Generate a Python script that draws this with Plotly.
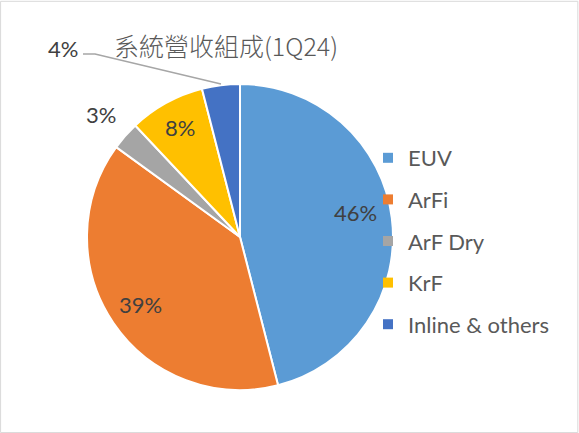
import math
import plotly.graph_objects as go

labels = ["EUV", "ArFi", "ArF Dry", "KrF", "Inline & others"]
values = [46, 39, 3, 8, 4]
colors = ["#5B9BD5", "#ED7D31", "#A5A5A5", "#FFC000", "#4472C4"]
title_text = "系統營收組成(1Q24)"

W, H = 579, 433
# pie geometry in pixels (centre and radius)
CX, CY, R = 240, 237, 153
# where each value label sits: fraction of the radius, small angle nudge (deg)
label_r = [0.77, 0.79, 1.21, 0.82, None]
label_nudge = [-5, 0, 0, 0, 0]

LABEL_FONT = dict(family="Lato", size=22, color="#404040")


def px(x):
    return x / W


def py(y):
    return 1 - y / H


fig = go.Figure()
fig.add_trace(
    go.Pie(
        labels=labels,
        values=values,
        sort=False,
        direction="clockwise",
        rotation=0,
        marker=dict(colors=colors, line=dict(color="white", width=2)),
        textinfo="none",
        domain=dict(x=[px(CX - R), px(CX + R)], y=[py(CY + R), py(CY - R)]),
        hoverinfo="label+percent",
        showlegend=False,
    )
)

# legend entries (one group each so the rows can be spaced out like the original)
for name, col in zip(labels, colors):
    fig.add_trace(
        go.Scatter(
            x=[None], y=[None], mode="markers", name=name,
            marker=dict(symbol="square", size=10, color=col),
            legendgroup=name, hoverinfo="skip",
        )
    )

# value labels, placed along each slice's middle angle
total = sum(values)
cum = 0
for i, v in enumerate(values):
    mid = (cum + v / 2) / total * 360 + label_nudge[i]
    cum += v
    if label_r[i] is None:
        continue
    a = math.radians(mid)
    x = CX + label_r[i] * R * math.sin(a)
    y = CY - label_r[i] * R * math.cos(a)
    fig.add_annotation(
        x=px(x), y=py(y), xref="paper", yref="paper",
        xanchor="center", yanchor="middle",
        text=f"{v}%", showarrow=False, font=LABEL_FONT,
    )

# the small slice gets its label pulled out with a leader line
fig.add_annotation(
    x=px(63), y=py(49), xref="paper", yref="paper",
    xanchor="center", yanchor="middle",
    text=f"{values[4]}%", showarrow=False, font=LABEL_FONT,
)
fig.add_shape(
    type="path", xref="paper", yref="paper",
    path=f"M {px(83)} {py(54)} L {px(95)} {py(54)} L {px(221)} {py(84)}",
    line=dict(color="#A6A6A6", width=1.5),
)
# chart border
fig.add_shape(
    type="rect", xref="paper", yref="paper",
    x0=0.001, y0=0.001, x1=0.998, y1=0.997,
    line=dict(color="#D9D9D9", width=1),
)

fig.update_layout(
    width=W, height=H,
    margin=dict(l=0, r=0, t=0, b=0),
    paper_bgcolor="white",
    plot_bgcolor="white",
    xaxis=dict(visible=False),
    yaxis=dict(visible=False),
    title=dict(
        text=title_text, x=px(226), y=py(47), xanchor="center", yanchor="middle",
        font=dict(family="Noto Sans CJK TC", size=25, color="#595959", weight=300),
    ),
    legend=dict(
        x=px(368), y=py(137), xanchor="left", yanchor="top",
        font=dict(family="Lato", size=22, color="#595959"),
        bgcolor="rgba(0,0,0,0)",
        tracegroupgap=10,
        itemwidth=30,
    ),
)

fig.write_html(
    "out.html",
    config={"displayModeBar": False},
    post_script="document.body.style.margin='0';",
)
